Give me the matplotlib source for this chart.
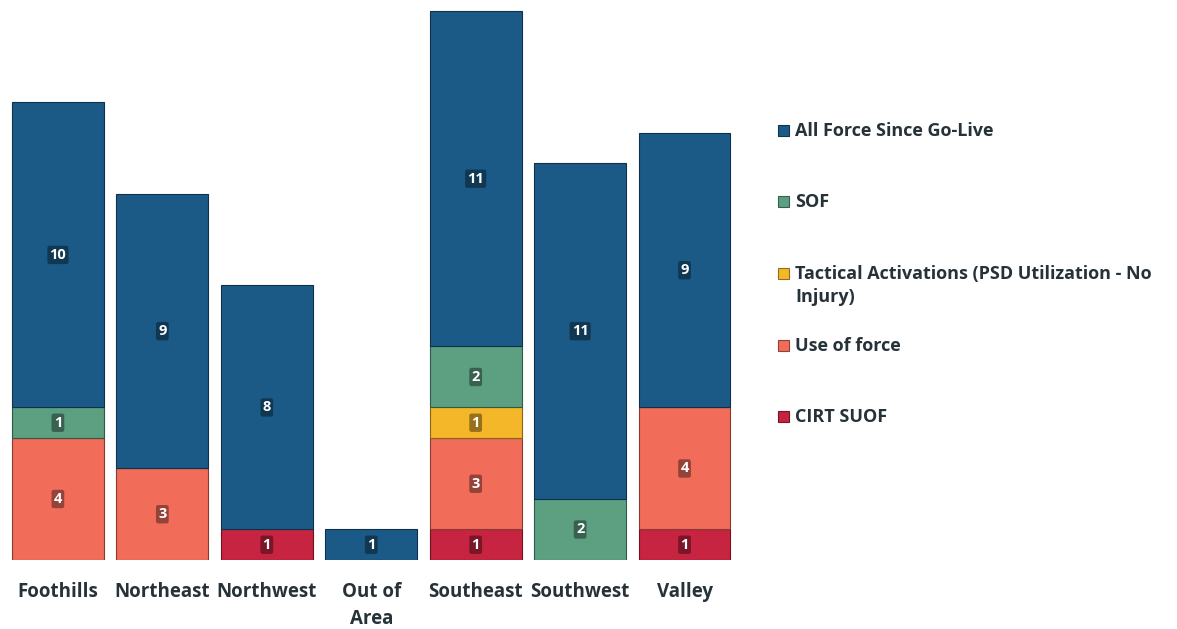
import numpy as np
import matplotlib.pyplot as plt
from matplotlib.patches import Rectangle
from matplotlib.colors import to_rgb

plt.rcParams['font.family'] = ['Open Sans', 'DejaVu Sans']

areas = ['Foothills', 'Northeast', 'Northwest', 'Out of\nArea', 'Southeast', 'Southwest', 'Valley']

# stack order, bottom to top
series = ['CIRT SUOF', 'Use of force', 'Tactical Activations (PSD Utilization - No\nInjury)',
          'SOF', 'All Force Since Go-Live']
cirt = [0, 0, 1, 0, 1, 0, 1]
use_of_force = [4, 3, 0, 0, 3, 0, 4]
tactical = [0, 0, 0, 0, 1, 0, 0]
sof = [1, 0, 0, 0, 2, 2, 0]
all_force = [10, 9, 8, 1, 11, 11, 9]
colors = ['#c62440', '#f26c5a', '#f4b72a', '#5c9f81', '#1b5a87']

values = [cirt, use_of_force, tactical, sof, all_force]

fig = plt.figure(figsize=(11.77, 6.29), dpi=100)
ax = fig.add_axes([0.0004, 0.1097, 0.63, 0.8744])

x = np.arange(len(areas))
bottom = np.zeros(len(areas))
for name, vals, col in zip(series, values, colors):
    vals = np.array(vals, dtype=float)
    dark = tuple(c * 0.55 for c in to_rgb(col))
    bars = ax.bar(x, vals, width=0.88, bottom=bottom, color=col,
                  edgecolor=dark, linewidth=0.8)
    for b, v in zip(bars, vals):
        if v > 0:
            ax.text(b.get_x() + b.get_width() / 2, b.get_y() + v / 2, str(int(v)),
                    ha='center', va='center', color='white', fontsize=10.5,
                    fontweight='bold',
                    bbox=dict(boxstyle='round,pad=0.15', facecolor=dark,
                              edgecolor='none', alpha=0.85))
    bottom += vals

ax.set_xlim(-0.55, 6.55)
ax.set_ylim(0, 18.03)
ax.set_xticks(x)
ax.set_xticklabels(areas, fontsize=13.5, fontweight='bold', color='#263238',
                   linespacing=1.45)
ax.tick_params(axis='x', length=0, pad=16)
ax.set_yticks([])
for s in ax.spines.values():
    s.set_visible(False)

# legend, top to bottom
leg_y = [130, 201, 273, 345, 416]
for name, col, yy in zip(series[::-1], colors[::-1], leg_y):
    yf = 1 - yy / 629
    fig.patches.append(Rectangle((778 / 1177, yf - 0.01), 0.0095, 0.018,
                                 transform=fig.transFigure, facecolor=col,
                                 edgecolor=tuple(c * 0.6 for c in to_rgb(col)),
                                 linewidth=0.8))
    fig.text(795 / 1177, yf + 0.013, name, ha='left', va='top', fontsize=13,
             fontweight='bold', color='#263238', linespacing=1.35)

fig.savefig('out.png', dpi=100)
